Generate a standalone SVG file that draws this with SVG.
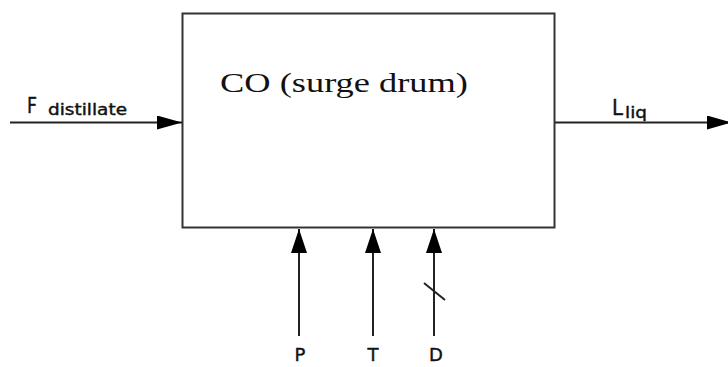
<svg xmlns="http://www.w3.org/2000/svg" width="728" height="367" viewBox="0 0 728 367">
  <style>
    .box { fill: #ffffff; stroke: #333333; stroke-width: 2; }
    .flow { stroke: #222222; stroke-width: 2; fill: none; }
    .title { font-family: "Liberation Serif", "Times New Roman", serif; font-size: 28px; fill: #111111; }
    .lbl { font-family: "DejaVu Sans", "Liberation Sans", sans-serif; fill: #111111; stroke: #111111; stroke-width: 0.4; }
  </style>
  <defs>
    <marker id="arrowHead" viewBox="0 0 24 16" refX="24" refY="8" markerWidth="24" markerHeight="16" markerUnits="userSpaceOnUse" orient="auto">
      <path d="M0,0 L24,8 L0,16 Z" fill="#000000"/>
    </marker>
    <marker id="arrowSide" viewBox="0 0 25 14" refX="25" refY="7" markerWidth="25" markerHeight="14" markerUnits="userSpaceOnUse" orient="auto">
      <path d="M0,0 L25,7 L0,14 Z" fill="#000000"/>
    </marker>
  </defs>
  <rect width="728" height="367" fill="#ffffff"/>

  <g id="surge-drum">
    <rect class="box" x="182.5" y="13.5" width="372" height="214"/>
    <text class="title" x="220" y="91.5" textLength="248" lengthAdjust="spacingAndGlyphs">CO (surge drum)</text>
  </g>

  <g id="connectors">
    <!-- feed in -->
    <line class="flow" x1="10" y1="122.5" x2="182" y2="122.5" marker-end="url(#arrowSide)"/>
    <!-- liquid out -->
    <line class="flow" x1="555" y1="122.5" x2="732" y2="122.5" marker-end="url(#arrowSide)"/>
    <!-- inputs from below -->
    <line class="flow" x1="299" y1="336" x2="299" y2="229" marker-end="url(#arrowHead)"/>
    <line class="flow" x1="373" y1="336" x2="373" y2="229" marker-end="url(#arrowHead)"/>
    <line class="flow" x1="434" y1="336" x2="434" y2="229" marker-end="url(#arrowHead)"/>
    <!-- vector tick on D -->
    <line class="flow" x1="424" y1="283" x2="445" y2="300"/>
  </g>

  <g id="label-feed">
    <text class="lbl" x="27" y="113" font-size="22" textLength="10" lengthAdjust="spacingAndGlyphs">F</text>
    <text class="lbl" x="48" y="115" font-size="15" textLength="79" lengthAdjust="spacingAndGlyphs">distillate</text>
  </g>
  <g id="label-liquid">
    <text class="lbl" x="612" y="115" font-size="22" textLength="11" lengthAdjust="spacingAndGlyphs">L</text>
    <text class="lbl" x="625" y="118" font-size="15" textLength="22" lengthAdjust="spacingAndGlyphs">liq</text>
  </g>
  <g id="label-P"><text class="lbl" x="300" y="361" font-size="18" text-anchor="middle">P</text></g>
  <g id="label-T"><text class="lbl" x="373" y="361" font-size="18" text-anchor="middle">T</text></g>
  <g id="label-D"><text class="lbl" x="436" y="361" font-size="18" text-anchor="middle">D</text></g>
</svg>
